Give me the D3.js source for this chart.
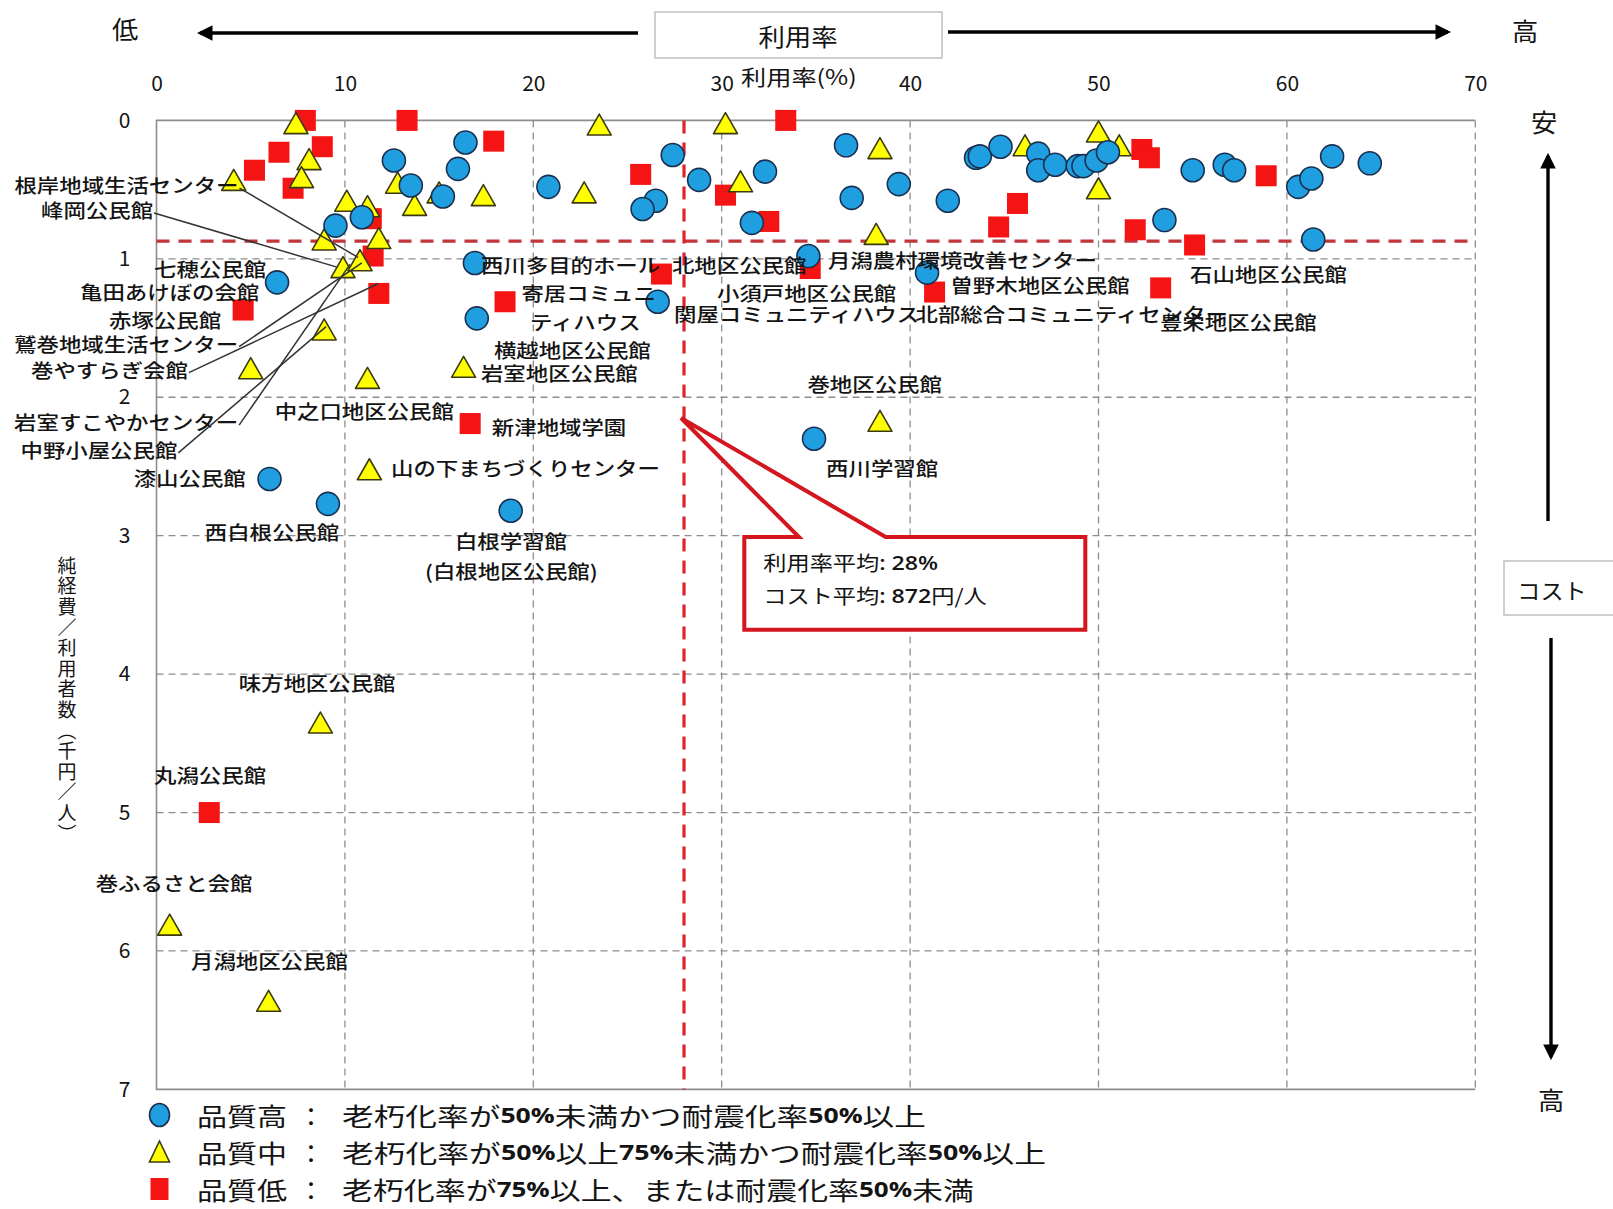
<!DOCTYPE html>
<html>
<head>
<meta charset="utf-8">
<script src="https://cdn.jsdelivr.net/npm/d3@7"></script>
<style>
  body { margin: 0; background: #fff; }
  svg { display: block; }
  text { font-family: "Noto Sans CJK JP", "Noto Sans", sans-serif; fill: #141414; }
</style>
</head>
<body>
<svg id="chart" width="1613" height="1209"></svg>
<script>
// ---- data -------------------------------------------------------------
// axis ticks
const xTicks = [0, 10, 20, 30, 40, 50, 60, 70];
const yTicks = [0, 1, 2, 3, 4, 5, 6, 7];

// averages: utilisation rate (%) and cost (thousand yen / person)
const avgRate = 28;
const avgCost = 0.872;

// [utilisation rate %, net cost per user (thousand yen)]
// 品質高 : 老朽化率50%未満かつ耐震化率50%以上
const qualityHigh = [
  [12.6, 0.29], [13.5, 0.47], [9.5, 0.76], [10.9, 0.70], [6.4, 1.17],
  [16.4, 0.16], [16.0, 0.35], [15.2, 0.55], [20.8, 0.48], [27.4, 0.25],
  [26.5, 0.58], [25.8, 0.64], [28.8, 0.43], [16.9, 1.03], [26.6, 1.31],
  [17.0, 1.43], [36.6, 0.18], [32.3, 0.37], [36.9, 0.56], [39.4, 0.46],
  [42.0, 0.58], [31.6, 0.74], [34.6, 0.98], [40.9, 1.10], [43.5, 0.27],
  [43.7, 0.26], [44.8, 0.19], [46.8, 0.24], [46.8, 0.36], [47.7, 0.32],
  [48.9, 0.33], [49.2, 0.33], [49.9, 0.29], [50.5, 0.23], [55.0, 0.36],
  [56.7, 0.32], [57.2, 0.36], [60.6, 0.48], [61.3, 0.42], [62.4, 0.26],
  [64.4, 0.31], [53.5, 0.72], [61.4, 0.86], [6.0, 2.59], [9.1, 2.77],
  [18.8, 2.82], [34.9, 2.30]
];
// 品質中 : 老朽化率50%以上75%未満かつ耐震化率50%以上
const qualityMid = [
  [7.4, 0.02], [8.1, 0.28], [7.7, 0.41], [4.1, 0.43], [10.1, 0.58],
  [11.2, 0.62], [12.8, 0.45], [13.7, 0.61], [11.8, 0.85], [8.9, 0.86],
  [9.9, 1.06], [10.8, 1.01], [15.0, 0.52], [17.35, 0.54], [22.7, 0.52],
  [23.5, 0.03], [30.2, 0.02], [31.0, 0.44], [38.4, 0.20], [38.2, 0.82],
  [46.1, 0.18], [50.0, 0.08], [51.1, 0.18], [50.0, 0.49], [8.9, 1.51],
  [5.0, 1.79], [11.2, 1.86], [16.3, 1.78], [11.3, 2.52], [38.4, 2.17],
  [8.7, 4.35], [0.7, 5.81], [5.95, 6.36]
];
// 品質低 : 老朽化率75%以上、または耐震化率50%未満
const qualityLow = [
  [7.9, 0.0], [13.3, 0.0], [6.5, 0.23], [8.8, 0.19], [5.2, 0.36],
  [7.25, 0.49], [11.4, 0.71], [11.5, 0.98], [11.8, 1.25], [4.6, 1.37],
  [17.9, 0.15], [25.7, 0.39], [26.8, 1.11], [18.5, 1.31], [30.2, 0.54],
  [33.4, 0.0], [32.5, 0.73], [34.7, 1.07], [45.7, 0.60], [44.7, 0.77],
  [41.3, 1.24], [52.3, 0.21], [52.7, 0.27], [58.9, 0.40], [51.95, 0.79],
  [55.1, 0.90], [53.3, 1.21], [16.65, 2.19], [2.8, 5.0]
];

// facility names shown on the plot, placed in data units (left edge, middle)
const facilityLabels = [
  ["根岸地域生活センター", -7.54, 0.467],
  ["峰岡公民館", -6.13, 0.647],
  ["七穂公民館", -0.13, 1.07],
  ["亀田あけぼの会館", -4.06, 1.24],
  ["赤塚公民館", -2.52, 1.44],
  ["鷲巻地域生活センター", -7.56, 1.613],
  ["巻やすらぎ会館", -6.66, 1.80],
  ["岩室すこやかセンター", -7.56, 2.18],
  ["中野小屋公民館", -7.22, 2.38],
  ["漆山公民館", -1.21, 2.58],
  ["西白根公民館", 2.56, 2.97],
  ["中之口地区公民館", 6.27, 2.10],
  ["山の下まちづくりセンター", 12.45, 2.51],
  ["新津地域学園", 17.8, 2.215],
  ["白根学習館", 15.84, 3.04],
  ["(白根地区公民館)", 14.25, 3.25],
  ["西川多目的ホール", 17.22, 1.045],
  ["北地区公民館", 27.36, 1.04],
  ["月潟農村環境改善センター", 35.64, 1.01],
  ["寄居コミュニ", 19.37, 1.247],
  ["ティハウス", 19.82, 1.457],
  ["横越地区公民館", 17.91, 1.66],
  ["岩室地区公民館", 17.22, 1.825],
  ["小須戸地区公民館", 29.75, 1.247],
  ["関屋コミュニティハウス", 27.47, 1.40],
  ["曽野木地区公民館", 42.14, 1.19],
  ["北部総合コミュニティセンター", 40.29, 1.40],
  ["豊栄地区公民館", 53.26, 1.457],
  ["石山地区公民館", 54.86, 1.107],
  ["巻地区公民館", 34.55, 1.905],
  ["西川学習館", 35.54, 2.51],
  ["味方地区公民館", 4.36, 4.06],
  ["丸潟公民館", -0.13, 4.73],
  ["巻ふるさと会館", -3.23, 5.51],
  ["月潟地区公民館", 1.83, 6.07]
];
// leader lines: label they start from, and the point they reach
const leaderLines = [
  ["根岸地域生活センター", 10.7, 0.99],
  ["峰岡公民館", 9.58, 1.06],
  ["鷲巻地域生活センター", 10.9, 1.03],
  ["巻やすらぎ会館", 11.76, 1.18],
  ["岩室すこやかセンター", 10.27, 1.04],
  ["中野小屋公民館", 9.0, 1.49]
];

const legendItems = [
  { key: "high", name: "品質高", desc: [["老朽化率が", 0], ["50%", 1], ["未満かつ耐震化率", 0], ["50%", 1], ["以上", 0]] },
  { key: "mid",  name: "品質中", desc: [["老朽化率が", 0], ["50%", 1], ["以上", 0], ["75%", 1], ["未満かつ耐震化率", 0], ["50%", 1], ["以上", 0]] },
  { key: "low",  name: "品質低", desc: [["老朽化率が", 0], ["75%", 1], ["以上、または耐震化率", 0], ["50%", 1], ["未満", 0]] }
];

// ---- layout -----------------------------------------------------------
const svg = d3.select("#chart");
const x = d3.scaleLinear().domain([0, 70]).range([156.5, 1475.3]);
const y = d3.scaleLinear().domain([0, 7]).range([120.4, 1089.4]);

const gridColor = "#8d8d8d";
const labelSize = 19;
const labelScaleX = 1.18;

// horizontally widened text anchored at (px, py), vertically centred
function wideText(parent, px, py, str, size, sx, anchor) {
  const g = parent.append("g").attr("transform", `translate(${px},${py})`);
  const t = g.append("text")
    .attr("transform", `scale(${sx},1)`)
    .attr("font-size", size)
    .attr("dominant-baseline", "central")
    .attr("text-anchor", anchor || "start")
    .text(str);
  return t;
}

// ---- grid ---------------------------------------------------------------
const grid = svg.append("g");
grid.selectAll("line.v").data(xTicks.filter(d => d > 0)).join("line")
  .attr("class", "v")
  .attr("x1", d => x(d)).attr("x2", d => x(d))
  .attr("y1", y(0)).attr("y2", y(7))
  .attr("stroke", gridColor).attr("stroke-width", 1.3)
  .attr("stroke-dasharray", "7,5");
grid.selectAll("line.h").data(yTicks.filter(d => d > 0 && d < 7)).join("line")
  .attr("class", "h")
  .attr("x1", x(0)).attr("x2", x(70))
  .attr("y1", d => y(d)).attr("y2", d => y(d))
  .attr("stroke", gridColor).attr("stroke-width", 1.3)
  .attr("stroke-dasharray", "7,5");
// solid frame on top, left and bottom
grid.append("path")
  .attr("d", `M${x(70)},${y(0)}H${x(0)}V${y(7)}H${x(70)}`)
  .attr("fill", "none").attr("stroke", gridColor).attr("stroke-width", 1.6);

// ---- axes ---------------------------------------------------------------
const xAxis = svg.append("g")
  .attr("transform", `translate(0,${y(0)})`)
  .call(d3.axisTop(x).tickValues(xTicks).tickSize(0).tickPadding(29).tickFormat(d3.format("d")));
xAxis.select(".domain").remove();
xAxis.attr("font-family", "Open Sans, sans-serif").attr("font-size", 21);
xAxis.selectAll("text").attr("fill", "#222");

const yAxis = svg.append("g")
  .attr("transform", `translate(${x(0)},0)`)
  .call(d3.axisLeft(y).tickValues(yTicks).tickSize(0).tickPadding(26).tickFormat(d3.format("d")));
yAxis.select(".domain").remove();
yAxis.attr("font-family", "Open Sans, sans-serif").attr("font-size", 21);
yAxis.selectAll("text").attr("fill", "#222");

// axis titles
wideText(svg, 741, 76, "利用率(%)", 21, 1.2);
svg.append("text")
  .attr("x", 67).attr("y", 556)
  .attr("font-size", 19)
  .style("letter-spacing", "1.6px")
  .style("writing-mode", "vertical-rl")
  .text("純経費／利用者数（千円／人）");

// ---- average lines ------------------------------------------------------
svg.append("line")
  .attr("x1", x(0)).attr("x2", x(70))
  .attr("y1", y(avgCost)).attr("y2", y(avgCost))
  .attr("stroke", "#c2343c").attr("stroke-width", 3.4)
  .attr("stroke-dasharray", "13,9");
svg.append("line")
  .attr("x1", x(avgRate)).attr("x2", x(avgRate))
  .attr("y1", y(0)).attr("y2", y(7))
  .attr("stroke", "#e0222a").attr("stroke-width", 3.2)
  .attr("stroke-dasharray", "13,9");

// ---- markers ------------------------------------------------------------
const sq = 21, triW = 24, triH = 21, rad = 11.5;
const marks = svg.append("g");
marks.selectAll("rect.low").data(qualityLow).join("rect")
  .attr("class", "low")
  .attr("x", d => x(d[0]) - sq / 2).attr("y", d => y(d[1]) - sq / 2)
  .attr("width", sq).attr("height", sq)
  .attr("fill", "#f41414");
const triPath = `M0,${-triH / 2}L${triW / 2},${triH / 2}L${-triW / 2},${triH / 2}Z`;
marks.selectAll("path.mid").data(qualityMid).join("path")
  .attr("class", "mid")
  .attr("transform", d => `translate(${x(d[0])},${y(d[1])})`)
  .attr("d", triPath)
  .attr("fill", "#ffff00").attr("stroke", "#3c3a10").attr("stroke-width", 1.6)
  .attr("stroke-linejoin", "round");
marks.selectAll("circle.high").data(qualityHigh).join("circle")
  .attr("class", "high")
  .attr("cx", d => x(d[0])).attr("cy", d => y(d[1])).attr("r", rad)
  .attr("fill", "#1f9fe0").attr("stroke", "#1a3050").attr("stroke-width", 1.6);

// ---- facility labels ---------------------------------------------------
const labelLayer = svg.append("g");
const labelEnds = {};
facilityLabels.forEach(([name, lx, ly]) => {
  const t = wideText(labelLayer, x(lx), y(ly), name, labelSize, labelScaleX)
    .attr("font-weight", 500);
  const w = t.node().getComputedTextLength() * labelScaleX;
  labelEnds[name] = [x(lx) + w, y(ly)];
});
labelLayer.selectAll("line.leader").data(leaderLines).join("line")
  .attr("class", "leader")
  .attr("x1", d => labelEnds[d[0]][0] + 1).attr("y1", d => labelEnds[d[0]][1] + 3)
  .attr("x2", d => x(d[1])).attr("y2", d => y(d[2]))
  .attr("stroke", "#333").attr("stroke-width", 1.5);

// ---- callout for the averages -----------------------------------------
const box = { x0: x(31.2), x1: x(49.3), y0: y(3.01), y1: y(3.68) };
const tip = [x(avgRate) - 3, y(2.15)];
const base = [x(34.1), x(38.7)];
const callout = svg.append("g");
callout.append("path")
  .attr("d", `M${box.x0},${box.y0}H${base[0]}L${tip[0]},${tip[1]}L${base[1]},${box.y0}H${box.x1}V${box.y1}H${box.x0}Z`)
  .attr("fill", "#fff").attr("stroke", "#d4161e").attr("stroke-width", 4)
  .attr("stroke-linejoin", "miter");
const cl1 = wideText(callout, box.x0 + 19, box.y0 + 25, "", 20, 1.16);
cl1.append("tspan").text("利用率平均");
cl1.append("tspan").attr("font-family", "Open Sans, sans-serif").attr("font-weight", 600).text(`: ${avgRate}%`);
const cl2 = wideText(callout, box.x0 + 19, box.y0 + 58, "", 20, 1.16);
cl2.append("tspan").text("コスト平均");
cl2.append("tspan").attr("font-family", "Open Sans, sans-serif").attr("font-weight", 600).text(`: ${Math.round(avgCost * 1000)}`);
cl2.append("tspan").text("円/人");

// ---- direction banners ---------------------------------------------------
const defs = svg.append("defs");
defs.append("marker").attr("id", "head")
  .attr("viewBox", "0 0 10 10").attr("refX", 8).attr("refY", 5)
  .attr("markerWidth", 4.6).attr("markerHeight", 4.6)
  .attr("markerUnits", "strokeWidth").attr("orient", "auto-start-reverse")
  .append("path").attr("d", "M0,0L10,5L0,10Z").attr("fill", "#000");

const banner = svg.append("g");
banner.append("line").attr("x1", 638).attr("x2", 200).attr("y1", 33).attr("y2", 33)
  .attr("stroke", "#000").attr("stroke-width", 3.4).attr("marker-end", "url(#head)");
banner.append("line").attr("x1", 948).attr("x2", 1448).attr("y1", 32).attr("y2", 32)
  .attr("stroke", "#000").attr("stroke-width", 3.4).attr("marker-end", "url(#head)");
banner.append("rect").attr("x", 655).attr("y", 12).attr("width", 287).attr("height", 46)
  .attr("fill", "#fff").attr("stroke", "#c4c4c4").attr("stroke-width", 1.6);
wideText(banner, 798, 36, "利用率", 24, 1.1, "middle");
wideText(banner, 125, 28, "低", 25, 1.05, "middle");
wideText(banner, 1525, 30, "高", 25, 1.05, "middle");

banner.append("line").attr("x1", 1548).attr("x2", 1548).attr("y1", 521).attr("y2", 156)
  .attr("stroke", "#000").attr("stroke-width", 3.4).attr("marker-end", "url(#head)");
banner.append("line").attr("x1", 1551).attr("x2", 1551).attr("y1", 638).attr("y2", 1057)
  .attr("stroke", "#000").attr("stroke-width", 3.4).attr("marker-end", "url(#head)");
banner.append("rect").attr("x", 1504).attr("y", 561).attr("width", 120).attr("height", 54)
  .attr("fill", "#fff").attr("stroke", "#c4c4c4").attr("stroke-width", 1.6);
wideText(banner, 1552, 589, "コスト", 22, 1.05, "middle");
wideText(banner, 1544, 121, "安", 25, 1.05, "middle");
wideText(banner, 1551, 1099, "高", 25, 1.05, "middle");

// ---- legend ---------------------------------------------------------------
const legend = svg.append("g");
const rowY = [1115, 1152, 1189];
const descWidth = [584, 704, 632];
legendItems.forEach((item, i) => {
  const cy = rowY[i], cx = 159.5;
  if (item.key === "high") {
    legend.append("ellipse").attr("cx", cx).attr("cy", cy).attr("rx", 10).attr("ry", 11.5)
      .attr("fill", "#1f9fe0").attr("stroke", "#1a3050").attr("stroke-width", 1.6);
  } else if (item.key === "mid") {
    legend.append("path").attr("transform", `translate(${cx},${cy})`)
      .attr("d", "M0,-11L10,10L-10,10Z")
      .attr("fill", "#ffff00").attr("stroke", "#3c3a10").attr("stroke-width", 1.6);
  } else {
    legend.append("rect").attr("x", cx - 9).attr("y", cy - 11).attr("width", 18).attr("height", 22)
      .attr("fill", "#f41414");
  }
  wideText(legend, 197, cy, item.name, 25, 1.2);
  wideText(legend, 311, cy, "：", 25, 1.0, "middle");
  const t = legend.append("text")
    .attr("x", 342).attr("y", cy)
    .attr("font-size", 25)
    .attr("dominant-baseline", "central")
    .attr("textLength", descWidth[i])
    .attr("lengthAdjust", "spacingAndGlyphs");
  item.desc.forEach(([s, bold]) => {
    const ts = t.append("tspan").text(s);
    if (bold) ts.attr("font-family", "Open Sans, sans-serif").attr("font-weight", 700).attr("font-size", 21);
  });
});
</script>
</body>
</html>
